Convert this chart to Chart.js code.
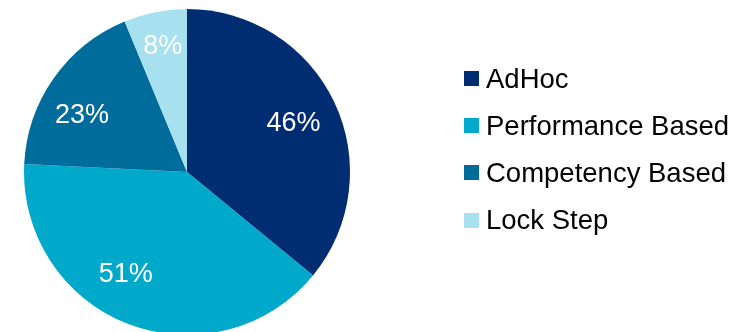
<!DOCTYPE html>
<html>
<head>
<meta charset="utf-8">
<script src="https://cdn.jsdelivr.net/npm/chart.js@4/dist/chart.umd.min.js"></script>
<style>
html,body{margin:0;padding:0;background:#fff;overflow:hidden;width:744px;height:332px;}
canvas{display:block;}
</style>
</head>
<body>
<canvas id="c" width="744" height="344"></canvas>
<script>
const categories = ["AdHoc", "Performance Based", "Competency Based", "Lock Step"];
const values = [46, 51, 23, 8];
const colors = ["#002D72", "#00A9C9", "#006C9B", "#A7E1EF"];

const FONT = "'Liberation Sans', Arial, sans-serif";

// label placement tweaks (Excel "best fit" style): angle shift in degrees, radius fraction
const labelPlacement = {
  angleShift: [0, 10.3, -6.1, 0.5],
  radiusFrac: [0.723, 0.722, 0.737, 0.80]
};

const sliceLabels = {
  id: 'sliceLabels',
  afterDatasetsDraw(chart) {
    const ctx = chart.ctx;
    const meta = chart.getDatasetMeta(0);
    const fs = 27;
    ctx.save();
    ctx.fillStyle = '#ffffff';
    ctx.font = fs + 'px ' + FONT;
    ctx.textAlign = 'center';
    ctx.textBaseline = 'alphabetic';
    meta.data.forEach((arc, i) => {
      const p = arc.getProps(['x','y','startAngle','endAngle','outerRadius'], true);
      const mid = (p.startAngle + p.endAngle) / 2 + labelPlacement.angleShift[i] * Math.PI / 180;
      const r = p.outerRadius * labelPlacement.radiusFrac[i];
      const x = p.x + Math.cos(mid) * r;
      const y = p.y + Math.sin(mid) * r;
      ctx.fillText(chart.data.datasets[0].data[i] + '%', x, y + fs * 0.358);
    });
    ctx.restore();
  }
};

const sideLegend = {
  id: 'sideLegend',
  afterDraw(chart) {
    const ctx = chart.ctx;
    const ds = chart.data.datasets[0];
    const x0 = 464, y0 = 78.5, step = 47.2, box = 15, fs = 27.5;
    ctx.save();
    ctx.font = fs + 'px ' + FONT;
    ctx.textBaseline = 'alphabetic';
    ctx.textAlign = 'left';
    chart.data.labels.forEach((lab, i) => {
      const y = y0 + i * step;
      ctx.fillStyle = ds.backgroundColor[i];
      ctx.fillRect(x0, Math.round(y - box / 2), box, box);
      ctx.fillStyle = '#000000';
      ctx.fillText(lab, 486, y + fs * 0.358 - 0.5);
    });
    ctx.restore();
  }
};

new Chart(document.getElementById('c'), {
  type: 'pie',
  data: {
    labels: categories,
    datasets: [{
      data: values,
      backgroundColor: colors,
      borderWidth: 0
    }]
  },
  options: {
    responsive: false,
    animation: false,
    layout: { padding: { left: 24, right: 394, top: 9, bottom: 9 } },
    plugins: {
      legend: { display: false },
      tooltip: { enabled: false }
    }
  },
  plugins: [sliceLabels, sideLegend]
});
</script>
</body>
</html>
